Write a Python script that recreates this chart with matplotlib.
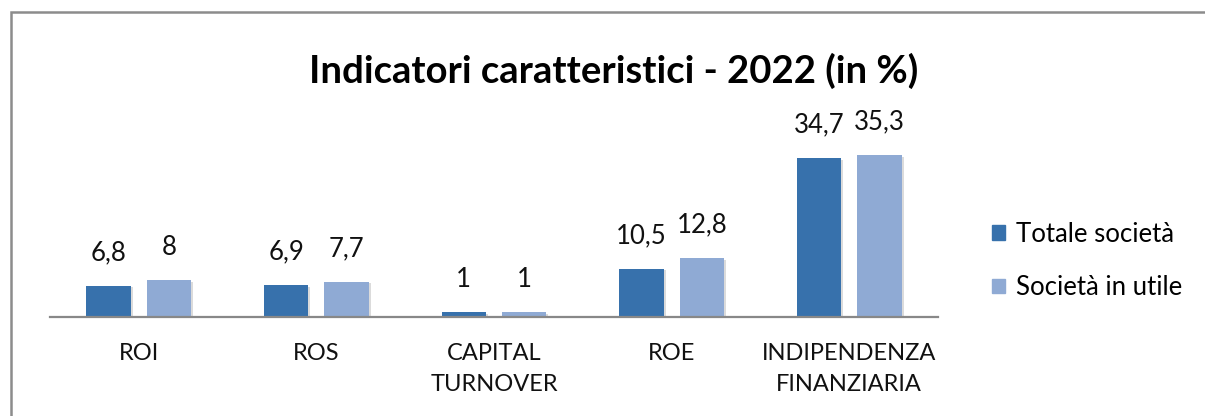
import matplotlib
matplotlib.use('Agg')
import numpy as np
import matplotlib.pyplot as plt
from matplotlib.patches import Patch, Rectangle
from matplotlib import patheffects

# Data
categories = ['ROI', 'ROS', 'CAPITAL\nTURNOVER', 'ROE', 'INDIPENDENZA\nFINANZIARIA']
totale = [6.8, 6.9, 1, 10.5, 34.7]
in_utile = [8, 7.7, 1, 12.8, 35.3]
series_names = ['Totale società', 'Società in utile']

dark = '#3771AC'
light = '#8FAAD4'

plt.rcParams['font.family'] = ['Lato', 'DejaVu Sans']

fig = plt.figure(figsize=(12.05, 4.16), dpi=100)
ax = fig.add_axes([50 / 1205, 99 / 416, 888 / 1205, 0.44])

x = np.arange(len(categories))
w = 0.25
shadow = [patheffects.SimplePatchShadow(offset=(1.5, -1), shadow_rgbFace='#999999', alpha=0.35),
          patheffects.Normal()]
b1 = ax.bar(x - 0.17, totale, w, color=dark, path_effects=shadow, zorder=2)
b2 = ax.bar(x + 0.17, in_utile, w, color=light, path_effects=shadow, zorder=2)

def fmt(v):
    return ('%g' % v).replace('.', ',')

for bars, vals in [(b1, totale), (b2, in_utile)]:
    for b, v in zip(bars, vals):
        ax.annotate(fmt(v), (b.get_x() + b.get_width() / 2, v),
                    xytext=(0, 24), textcoords='offset points',
                    ha='center', va='center', fontsize=18.5, color='#111111')

ax.set_xlim(-0.5, len(categories) - 0.5)
ax.set_ylim(0, 40)
ax.set_xticks(x)
ax.set_xticklabels(categories, fontsize=17, linespacing=1.55, color='#111111')
ax.tick_params(axis='x', length=0, pad=19)
ax.set_yticks([])
for s in ['top', 'right', 'left']:
    ax.spines[s].set_visible(False)
ax.spines['bottom'].set_color('#888888')
ax.spines['bottom'].set_linewidth(1.6)

fig.text(614 / 1205, 1 - 71 / 416, 'Indicatori caratteristici - 2022 (in %)',
         ha='center', va='center', fontsize=27.5, fontweight='bold', color='#000000')

handles = [Patch(color=dark), Patch(color=light)]
fig.legend(handles, series_names, loc='center left',
           bbox_to_anchor=(992 / 1205, 1 - 261 / 416), frameon=False,
           fontsize=18.5, handlelength=0.5, handleheight=0.5, handletextpad=0.45,
           labelspacing=1.1, borderpad=0, borderaxespad=0)

# outer chart frame (cut at right and bottom in the reference)
fig.patches.append(Rectangle((11 / 1205, -0.1), 1.2, 1 - 12 / 416 + 0.1,
                             transform=fig.transFigure, fill=False,
                             edgecolor='#8c8c8c', linewidth=1.8))

fig.savefig('out.png', dpi=100)
